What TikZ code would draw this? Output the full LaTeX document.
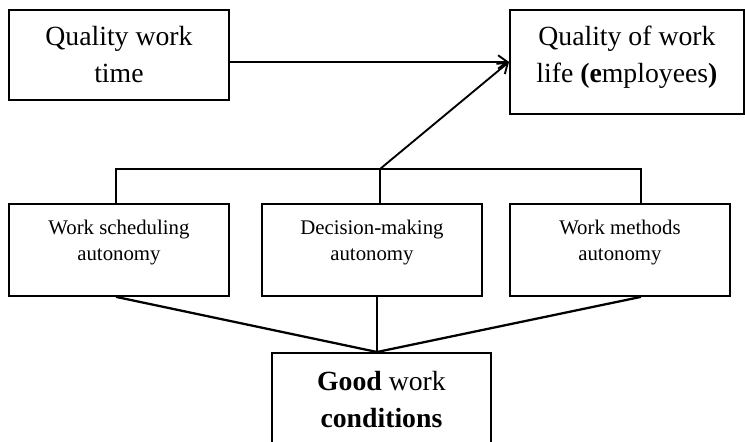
\documentclass[tikz,border=0pt]{standalone}
\usepackage{fontspec}
\setmainfont{Liberation Serif}
\usetikzlibrary{arrows.meta}
\tikzset{
	bigbox/.style={draw, line width=1.4pt, align=center, inner sep=0pt, anchor=north west, font=\fontsize{20.8}{27.75}\selectfont},
	smallbox/.style={draw, line width=1.4pt, align=center, inner sep=0pt, anchor=north west, font=\fontsize{15.6}{19.5}\selectfont},
	link/.style={line width=1.7pt},
	bracket/.style={line width=2.1pt},
	arrowlink/.style={line width=1.4pt, -{Straight Barb[length=7pt, width=10pt, line width=1.4pt]}}
}

\begin{document}
\begin{tikzpicture}[x=0.75pt, y=-0.75pt]
			%%%%% START %%%%%
			\useasboundingbox (0, 0) rectangle (745, 442);
			
			\node[bigbox, minimum width=165pt, text height=54.75pt, text depth=12.75pt] (worktime) at (8, 9) {Quality work\\time};
			\node[bigbox, minimum width=175.5pt, text height=54.75pt, text depth=23.25pt] (qwl) at (509, 9) {Quality of work\\life \textbf{(e}mployees\textbf{)}};
			
			\node[smallbox, minimum width=165pt, text height=42.4pt, text depth=26.6pt] (sched) at (8, 203) {Work scheduling\\autonomy};
			\node[smallbox, minimum width=165pt, text height=42.4pt, text depth=26.6pt] (decision) at (261, 203) {Decision-making\\autonomy};
			\node[smallbox, minimum width=165pt, text height=42.4pt, text depth=26.6pt] (methods) at (509, 203) {Work methods\\autonomy};
			
			\node[bigbox, minimum width=164.25pt, text height=56.25pt, text depth=15.75pt] (good) at (271, 352) {\textbf{Good} work\\\textbf{conditions}};
			
			\coordinate (braceL) at (116, 169);
			\coordinate (braceM) at (380, 169);
			\coordinate (braceR) at (641, 169);
			\coordinate (meet) at (377, 352);
			
			% bracket over the three autonomy boxes
			\draw[bracket] (braceL |- sched.north) -- (braceL) -- (braceR) -- (braceR |- methods.north);
			\draw[bracket] (braceM) -- (braceM |- decision.north);
			
			% arrows into quality of work life
			\draw[arrowlink] (worktime.east |- qwl.west) -- (qwl.west);
			\draw[arrowlink] (braceM) -- (qwl.west);
			
			% lines down to good work conditions
			\draw[link] (braceL |- sched.south) -- (meet);
			\draw[link] (meet |- decision.south) -- (meet);
			\draw[link] (braceR |- methods.south) -- (meet);
			%%%%% END %%%%%
\end{tikzpicture}
\end{document}
